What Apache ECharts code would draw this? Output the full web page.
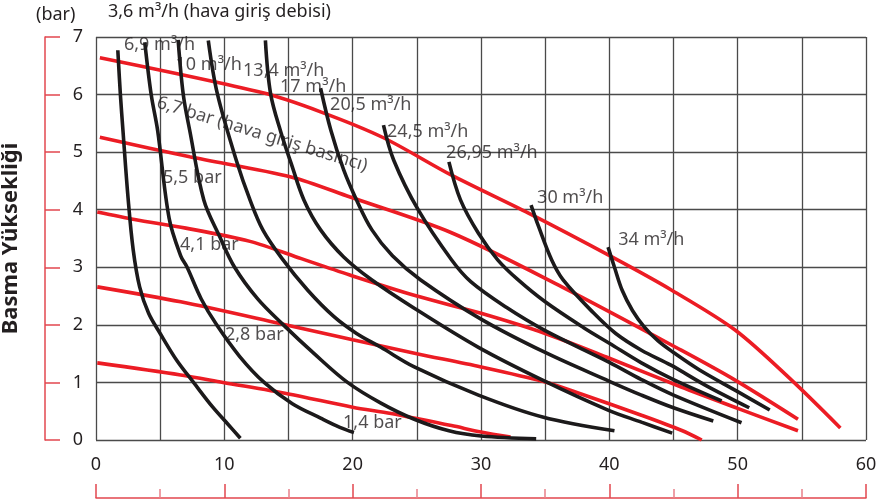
<!DOCTYPE html>
<html><head><meta charset="utf-8">
<script src="https://cdn.jsdelivr.net/npm/echarts@6/dist/echarts.min.js"></script>
<style>html,body{margin:0;padding:0;background:#fff}#c{width:882px;height:503px}</style>
</head><body><div id="c"></div>
<script>
// ---- data ----
const xTickLabels = [0, 10, 20, 30, 40, 50, 60];
const yTickLabels = [0, 1, 2, 3, 4, 5, 6, 7];

// air consumption curves (m3/h) : [flow, head]
const flow3_6  = [[1.7,6.77],[1.9,6.0],[2.1,5.38],[2.5,4.2],[2.9,3.3],[3.4,2.66],[4.1,2.2],[5.0,1.85],[6.3,1.38],[7.6,1.0],[9.1,0.57],[10.3,0.27],[11.25,0.03]];
const flow6_9  = [[3.8,6.91],[4.3,6.0],[4.8,5.38],[5.7,3.85],[6.6,3.2],[7.1,3.0],[8.2,2.45],[9.4,2.0],[11.2,1.45],[13.1,1.0],[15.3,0.63],[17.5,0.38],[19.0,0.22],[20.1,0.13]];
const flow10   = [[6.4,6.95],[6.8,6.0],[7.3,5.38],[8.4,4.17],[9.6,3.55],[10.8,3.0],[12.6,2.45],[14.6,2.0],[17.0,1.5],[19.6,1.0],[22.2,0.64],[24.8,0.36],[27.5,0.16],[30.0,0.07],[34.3,0.02]];
const flow13_4 = [[8.75,6.94],[9.45,6.02],[11.0,4.81],[12.0,4.17],[13.0,3.65],[14.5,3.15],[16.5,2.6],[18.5,2.15],[20.3,1.85],[22.2,1.61],[24.8,1.27],[29.8,0.78],[34.8,0.40],[40.4,0.16]];
const flow17   = [[13.2,6.94],[13.6,6.02],[14.4,5.35],[15.2,4.81],[16.2,4.17],[17.5,3.65],[19.3,3.18],[21.5,2.78],[24.8,2.29],[29.8,1.61],[34.8,1.04],[39.9,0.52],[42.5,0.31],[44.9,0.12]];
const flow20_5 = [[17.5,6.11],[18.3,5.38],[19.3,4.69],[20.3,4.17],[21.5,3.65],[23.1,3.2],[25.3,2.78],[30.0,2.1],[35.0,1.52],[40.0,1.02],[42.5,0.78],[45.0,0.56],[48.1,0.33]];
const flow24_5 = [[22.4,5.47],[23.2,4.86],[25.1,4.0],[27.7,3.13],[29.2,2.75],[32.0,2.3],[35.0,1.9],[40.0,1.35],[42.5,1.05],[45.0,0.78],[50.3,0.30]];
const flow26_95= [[27.5,4.83],[28.4,4.17],[29.8,3.59],[31.3,3.13],[32.9,2.78],[35.0,2.4],[38.0,1.95],[40.0,1.68],[42.5,1.34],[45.0,1.05],[48.75,0.68]];
const flow30   = [[33.9,4.08],[34.5,3.70],[35.5,3.13],[36.4,2.78],[38.8,2.2],[40.5,1.85],[42.5,1.56],[44.8,1.3],[47.5,0.95],[50.9,0.56]];
const flow34   = [[39.9,3.35],[40.4,3.0],[41.0,2.6],[41.8,2.25],[42.7,1.97],[43.8,1.72],[45.0,1.52],[47.0,1.22],[50.0,0.84],[52.5,0.52]];

// air inlet pressure curves (bar)
const press6_7 = [[0.3,6.64],[13.0,6.03],[17.5,5.70],[22.4,5.25],[27.7,4.60],[33.7,3.94],[40.2,3.18],[44.8,2.61],[49.8,1.91],[54.2,1.04],[58.0,0.21]];
const press5_5 = [[0.3,5.26],[7.3,4.92],[15.2,4.57],[19.8,4.22],[27.7,3.6],[36.3,2.66],[45.6,1.56],[49.8,1.04],[54.7,0.36]];
const press4_1 = [[0.1,3.96],[3.0,3.83],[7.0,3.68],[12.0,3.45],[16.0,3.15],[20.0,2.85],[25.0,2.5],[30.0,2.2],[35.0,1.85],[40.0,1.42],[45.6,0.92],[50.0,0.55],[54.7,0.16]];
const press2_8 = [[0.1,2.66],[6.6,2.4],[14.4,2.02],[20.0,1.74],[25.0,1.5],[30.0,1.27],[34.8,1.02],[37.8,0.8],[42.5,0.43],[45.6,0.17],[47.2,0.0]];
const press1_4 = [[0.1,1.34],[6.6,1.13],[9.9,1.0],[15.0,0.8],[20.0,0.57],[23.0,0.46],[27.7,0.25],[30.0,0.14],[32.3,0.05]];

const flowCurves = [flow3_6, flow6_9, flow10, flow13_4, flow17, flow20_5, flow24_5, flow26_95, flow30, flow34];
const pressCurves = [press6_7, press5_5, press4_1, press2_8, press1_4];

// curve labels and their anchor (data units)
const curveLabelText = ['6,9 m³/h','10 m³/h','13,4 m³/h','17 m³/h','20,5 m³/h','24,5 m³/h','26,95 m³/h','30 m³/h','34 m³/h','5,5 bar','4,1 bar','2,8 bar','1,4 bar'];
const curveLabelAt   = [[2.18,6.86],[6.2,6.51],[11.46,6.42],[14.34,6.13],[18.24,5.82],[22.68,5.35],[27.28,4.98],[34.37,4.2],[40.69,3.47],[5.22,4.55],[6.55,3.39],[10.05,1.82],[19.25,0.3]];
const mainPressLabel = '6,7 bar (hava giriş basıncı)';
const mainPressLabelAt = [12.94, 5.31];

const titleFlow = '3,6 m³/h (hava giriş debisi)';
const unitLabel = '(bar)';
const yName = 'Basma Yüksekliği';

// ---- chart ----
const FONT = 'Noto Sans';
const TXT = '#231f20';
const RED = '#ec1c24';
const AXRED = '#e2474f';
const chart = echarts.init(document.getElementById('c'), null, {renderer:'canvas'});

const series = [];
pressCurves.forEach(d => series.push({
  type:'line', data:d, showSymbol:false, smooth:0.3, silent:true, z:3,
  lineStyle:{color:RED, width:3.6}
}));
flowCurves.forEach(d => series.push({
  type:'line', data:d, showSymbol:false, smooth:0.35, silent:true, z:4,
  lineStyle:{color:'#1c1a1b', width:3.6}
}));
series.push({
  type:'scatter', symbolSize:0, silent:true, z:2,
  data: curveLabelText.map((t,i)=>({name:t, value:curveLabelAt[i]})),
  label:{show:true, position:'inside', align:'left', verticalAlign:'middle', formatter:'{b}', fontFamily:FONT, fontSize:18, color:TXT}
});
series.push({
  type:'scatter', symbolSize:0, silent:true, z:2,
  data:[{name:mainPressLabel, value:mainPressLabelAt}],
  label:{show:true, position:'inside', align:'center', verticalAlign:'middle', rotate:-17, formatter:'{b}', fontFamily:FONT, fontSize:18, color:TXT}
});

chart.setOption({
  animation:false,
  backgroundColor:'#fff',
  textStyle:{fontFamily:FONT},
  grid:{left:96, top:37, right:16, bottom:63, outerBoundsMode:'none', containLabel:false},
  graphic:[
    {type:'text', left:36, top:6, style:{text:unitLabel, font:'18px "Noto Sans"', fill:TXT}},
    {type:'text', left:108, top:3, style:{text:titleFlow, font:'18px "Noto Sans"', fill:TXT}}
  ],
  xAxis:[
    {type:'value', min:0, max:60, interval:5,
     axisLine:{show:false}, axisTick:{show:false},
     splitLine:{show:true, lineStyle:{color:'#4a4a4a', width:1.3}},
     axisLabel:{formatter:v => (v % 10 === 0 ? String(v) : ''), margin:16, fontSize:18, color:TXT, fontFamily:FONT}},
    {type:'value', min:0, max:60, interval:10, position:'bottom', offset:58,
     axisLine:{show:true, onZero:false, lineStyle:{color:AXRED, width:1.5}},
     axisTick:{show:true, inside:true, length:14, lineStyle:{color:AXRED, width:1.5}},
     minorTick:{show:true, splitNumber:2, length:9, lineStyle:{color:'#e98089', width:1.5}},
     axisLabel:{show:false}, splitLine:{show:false}}
  ],
  yAxis:[
    {type:'value', min:0, max:7, interval:1,
     axisLine:{show:false}, axisTick:{show:false},
     splitLine:{show:true, lineStyle:{color:'#4a4a4a', width:1.3}},
     axisLabel:{margin:13, fontSize:18, color:TXT, fontFamily:FONT}},
    {type:'value', min:0, max:7, interval:1, position:'left', offset:51,
     axisLine:{show:true, onZero:false, lineStyle:{color:AXRED, width:1.5}},
     axisTick:{show:true, inside:true, length:15, lineStyle:{color:AXRED, width:1.5}},
     axisLabel:{show:false}, splitLine:{show:false},
     name:yName, nameLocation:'middle', nameGap:23,
     nameTextStyle:{fontSize:22, fontWeight:'bold', color:TXT, fontFamily:FONT}}
  ],
  series: series
});
</script>
</body></html>
